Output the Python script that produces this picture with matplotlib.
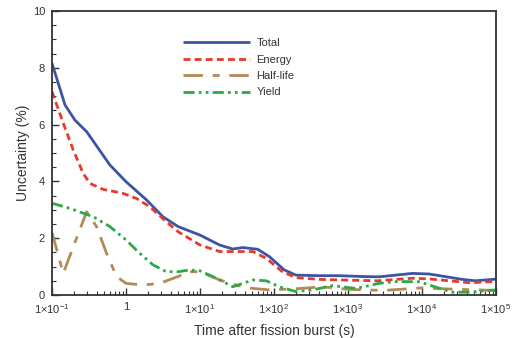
import matplotlib
matplotlib.use("Agg")
import matplotlib.pyplot as plt
from matplotlib.ticker import FixedLocator, LogLocator, NullFormatter, MultipleLocator

plt.rcParams['font.family'] = ['Liberation Sans', 'DejaVu Sans']
plt.rcParams['mathtext.fontset'] = 'custom'
plt.rcParams['mathtext.rm'] = 'Liberation Sans'
plt.rcParams['mathtext.it'] = 'Liberation Sans'

# Data
total_t = [0.1, 0.15, 0.204, 0.294, 0.605, 1.0, 1.89, 3.14, 5.05, 10, 18.4, 27.7, 37.8, 60.3, 86.7, 138, 198, 407, 759,
           1570, 2630, 7400, 12400, 34900, 52500, 1e5]
total_y = [8.16, 6.69, 6.16, 5.75, 4.58, 3.99, 3.35, 2.76, 2.41, 2.11, 1.76, 1.62, 1.67, 1.61, 1.35, 0.88, 0.70, 0.68, 0.68,
           0.65, 0.64, 0.76, 0.74, 0.55, 0.50, 0.56]

energy_t = [0.1, 0.142, 0.194, 0.264, 0.325, 0.49, 0.91, 1.38, 2.09, 3.5, 5.05, 10, 18.4, 30.7, 51.7, 78.5, 130, 198, 407,
            759, 2500, 7400, 12000, 45000, 1e5]
energy_y = [7.16, 6.05, 5.1, 4.28, 3.93, 3.72, 3.58, 3.40, 3.11, 2.58, 2.23, 1.76, 1.53, 1.53, 1.53, 1.29, 0.82, 0.61, 0.55,
            0.53, 0.50, 0.59, 0.57, 0.43, 0.48]

halflife_t = [0.1, 0.142, 0.194, 0.294, 0.40, 0.546, 0.745, 1.0, 1.7, 2.85, 5.05, 7.2, 10, 18.4, 30.7, 51.7, 86.7, 200,
              450, 1000, 3000, 10000, 30000, 1e5]
halflife_y = [2.2, 0.76, 1.70, 2.93, 2.41, 1.47, 0.65, 0.41, 0.35, 0.41, 0.65, 0.82, 0.82, 0.53, 0.35, 0.23, 0.18, 0.22,
              0.29, 0.2, 0.16, 0.25, 0.2, 0.16]

yield_t = [0.1, 0.175, 0.264, 0.36, 0.605, 1.0, 1.53, 2.32, 3.5, 5.05, 7.2, 10, 16.7, 27.7, 51.7, 78.5, 118, 198, 330, 620,
           1280, 2630, 4420, 9100, 17000, 25600, 42900, 1e5]
yield_y = [3.23, 3.05, 2.88, 2.76, 2.41, 1.94, 1.47, 1.06, 0.82, 0.82, 0.88, 0.85, 0.59, 0.29, 0.53, 0.50, 0.29, 0.12, 0.18,
           0.33, 0.23, 0.41, 0.47, 0.47, 0.24, 0.10, 0.10, 0.18]

xtick_vals = [0.1, 1, 10, 100, 1000, 10000, 100000]
xtick_labels = [r'$1{\times}10^{-1}$', '1', r'$1{\times}10^{1}$', r'$1{\times}10^{2}$', r'$1{\times}10^{3}$',
                r'$1{\times}10^{4}$', r'$1{\times}10^{5}$']
ytick_vals = [0, 2, 4, 6, 8, 10]

fig = plt.figure(figsize=(5.12, 3.38), dpi=100)
ax = fig.add_axes([52/512, 1 - 295/338, 444/512, 284/338])

ax.plot(total_t, total_y, color='#3b55a5', lw=2.0, solid_capstyle='butt', label='Total')
ax.plot(energy_t, energy_y, color='#e63a2e', lw=2.0, dashes=(2.5, 1.5), label='Energy')
ax.plot(halflife_t, halflife_y, color='#b38a55', lw=2.0, dashes=(7, 3.5, 2.5, 3.5), label='Half-life')
ax.plot(yield_t, yield_y, color='#2aab45', lw=2.0, dashes=(4, 1.5, 1, 1.5, 1, 1.5), label='Yield')

ax.set_xscale('log')
ax.set_xlim(0.1, 1e5)
ax.set_ylim(0, 10)
ax.xaxis.set_major_locator(FixedLocator(xtick_vals))
ax.set_xticks(xtick_vals)
ax.set_xticklabels(xtick_labels)
ax.xaxis.set_minor_locator(LogLocator(base=10, subs=range(2, 10), numticks=20))
ax.xaxis.set_minor_formatter(NullFormatter())
ax.set_yticks(ytick_vals)
ax.set_yticklabels([str(v) for v in ytick_vals])
ax.yaxis.set_minor_locator(MultipleLocator(0.5))

ax.tick_params(which='both', direction='in', colors='#333333', labelcolor='#333333', labelsize=8)
ax.tick_params(which='major', length=5, width=1.0, pad=5)
ax.tick_params(which='minor', length=3, width=0.8)
for s in ax.spines.values():
    s.set_color('#333333')
    s.set_linewidth(1.3)

ax.set_xlabel('Time after fission burst (s)', fontsize=10, color='#333333', labelpad=6)
ax.set_ylabel('Uncertainty (%)', fontsize=10, color='#333333', labelpad=2)

leg = ax.legend(loc='upper left', bbox_to_anchor=(0.285, 0.92), frameon=False, fontsize=8,
                handlelength=6.0, handletextpad=0.6, labelspacing=0.58, borderaxespad=0)
for t in leg.get_texts():
    t.set_color('#333333')

fig.savefig('out.png', dpi=100)
